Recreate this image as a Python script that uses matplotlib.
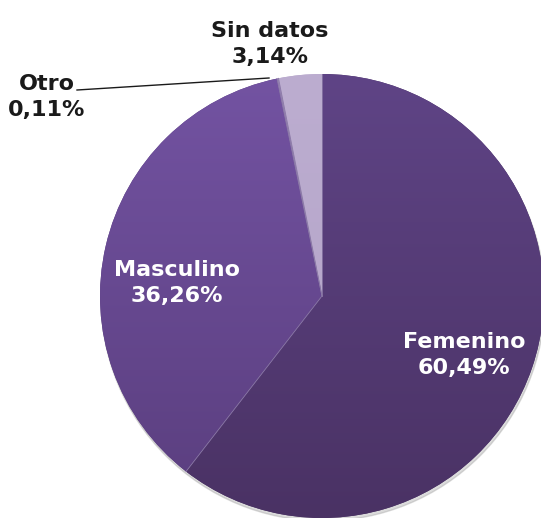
import numpy as np
import matplotlib.pyplot as plt
from matplotlib.patches import Circle
from matplotlib.colors import LinearSegmentedColormap

categories = ["Femenino", "Masculino", "Otro", "Sin datos"]
shares = [60.49, 36.26, 0.11, 3.14]
pct_labels = ["60,49%", "36,26%", "0,11%", "3,14%"]

# (top colour, bottom colour) of each slice's vertical gradient
shades = [("#5f4486", "#4a3264"), ("#7353a2", "#5a3e7e"),
          ("#9a86b8", "#8a76a8"), ("#bcadd0", "#b3a3c7")]
# label centres in pixels (x from left, y from top), and text colour
label_pos = {
    "Femenino": (464, 355, "white"),
    "Masculino": (177, 283, "white"),
    "Otro": (47, 97, "#1a1a1a"),
    "Sin datos": (270, 44, "#1a1a1a"),
}

W, H = 541, 518
cx, cy, r = 322, 296, 222

fig = plt.figure(figsize=(W / 100, H / 100), dpi=100)
ax = fig.add_axes([0, 0, 1, 1])

# soft shadow under the pie
ax.add_patch(Circle((cx + 1, H - cy - 3), r, color="#999999", alpha=0.35, zorder=0))

wedges, _ = ax.pie(shares, colors=[s[1] for s in shades], startangle=90,
                   counterclock=False, center=(cx, H - cy), radius=r, frame=True,
                   wedgeprops=dict(edgecolor="none"))

grad = np.linspace(0, 1, 256).reshape(-1, 1)
for w, (top, bottom) in zip(wedges, shades):
    w.set_zorder(1)
    cmap = LinearSegmentedColormap.from_list("g", [bottom, top])
    im = ax.imshow(grad, cmap=cmap, origin="lower", aspect="auto",
                   extent=(cx - r, cx + r, H - cy - r, H - cy + r), zorder=2)
    im.set_clip_path(w)

# faint lighter seams between slices
for w in wedges:
    a = np.deg2rad(w.theta1)
    ax.plot([cx, cx + r * np.cos(a)], [H - cy, H - cy + r * np.sin(a)],
            color="#8a78a6", lw=0.6, zorder=2.5)

ax.set_xlim(0, W)
ax.set_ylim(0, H)
ax.set_aspect("equal")
ax.axis("off")

for name, pct in zip(categories, pct_labels):
    x, y, c = label_pos[name]
    ax.text(x, H - y, name + "\n" + pct, ha="center", va="center", color=c,
            fontsize=16, fontweight="bold", family="DejaVu Sans",
            linespacing=1.42, zorder=3)

# leader line for the tiny "Otro" slice
ax.plot([77, 269], [H - 90, H - 78], color="#1a1a1a", lw=1, zorder=3)

fig.savefig("out.png", dpi=100)
